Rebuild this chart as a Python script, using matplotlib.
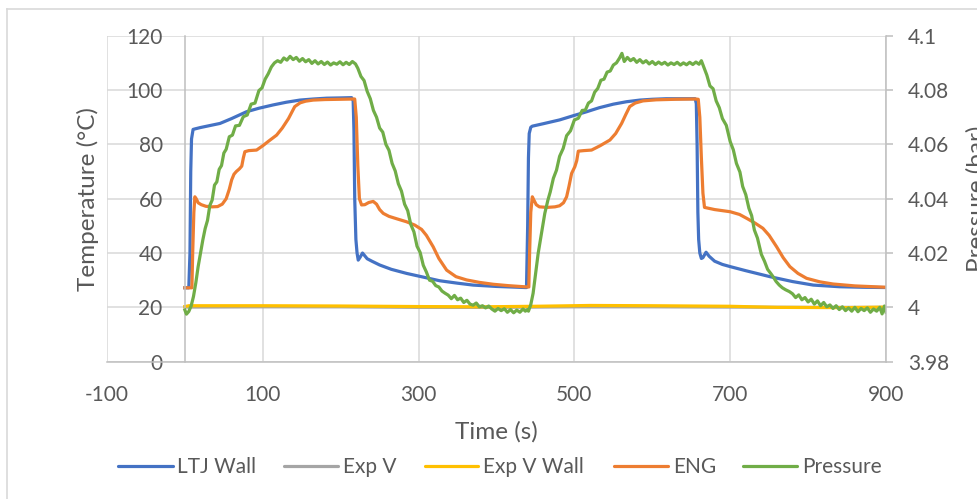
import matplotlib
matplotlib.use("Agg")
import matplotlib.pyplot as plt
from matplotlib.lines import Line2D
from matplotlib.ticker import FixedLocator, FuncFormatter

# ---------------------------------------------------------------- data
ltj_t = [0, 5, 6.5, 7.5, 8.5, 10.5, 13, 20, 30, 45, 60, 79, 95, 113, 130, 147.6,
         165, 182, 200, 214, 216, 217, 218, 219.5, 221, 222.5, 225, 228, 234,
         240, 250, 265, 284.6, 305, 327, 350, 370, 400, 437,
         438.5, 440, 441, 442, 444, 446, 460, 481, 498, 515.6, 532, 550, 567,
         584, 600, 618, 640, 655, 656.5, 657.5, 658.5, 659.5, 661, 663, 665,
         669, 673, 680, 690, 700, 720, 751, 780, 806.6, 840, 870, 900]
ltj_v = [27.2, 27.2, 40, 70, 82, 85.5, 85.7, 86.2, 86.8, 87.7, 89.5, 92, 93.3,
         94.5, 95.5, 96.3, 96.7, 97.0, 97.1, 97.2, 96, 85, 60, 45, 40, 37.4,
         38.5, 40.0, 37.9, 37.0, 35.6, 34.0, 32.5, 31.2, 29.8, 28.9, 28.2,
         27.7, 27.3,
         27.3, 50, 75, 84, 86.3, 86.7, 87.6, 89, 90.5, 92, 93.5, 94.8, 95.7,
         96.3, 96.6, 96.8, 96.8, 96.8, 95, 80, 55, 45, 40, 38, 38.3, 40.3,
         38.8, 37, 35.8, 35, 33.5, 31.3, 29.5, 28.2, 27.6, 27.4, 27.3]

expv_t = [0, 100, 200, 300, 400, 500, 600, 700, 800, 900]
expv_v = [20.1, 20.2, 20.2, 20.0, 20.0, 20.2, 20.2, 20.1, 20.0, 20.0]

expvw_t = [0, 5, 100, 200, 300, 380, 450, 520, 600, 700, 760, 850, 900]
expvw_v = [20.3, 20.6, 20.6, 20.5, 20.3, 20.2, 20.4, 20.7, 20.6, 20.4, 20.0,
           19.9, 20.1]

eng_t = [0, 9, 10, 11.5, 12.8, 14.5, 17, 21, 27, 35, 42, 48, 53, 57, 60, 63,
         66, 70, 73, 75, 77, 82, 92, 100, 108, 117.7, 125, 133, 141, 148, 155,
         164.7, 180, 200, 218, 220, 222, 224, 226.8, 231, 236, 241.7, 246, 250,
         254.6, 262, 272, 284.6, 295, 303.8, 310, 318.7, 326, 336, 348, 361.6,
         378, 395.8, 415, 440,
         441.5, 442.5, 444, 446, 448, 451, 455, 465, 475, 481, 486, 490, 493,
         496.4, 500.6, 503, 505, 512, 522, 533, 545.6, 553, 560.6, 566, 571,
         578, 588, 605, 630, 655, 659, 661, 663, 665, 667, 680, 700, 712, 721,
         732, 742, 750, 759.6, 768, 776.6, 787, 798, 815, 832, 860, 900]
eng_v = [27.2, 27.2, 40, 55, 60.7, 60, 58.5, 57.8, 57.2, 57, 57.1, 58, 60,
         63.5, 66.9, 69, 70, 71, 72, 75, 77.3, 77.7, 77.9, 79.5, 81.3, 83.4,
         86, 89.5, 93.9, 95.3, 95.9, 96.3, 96.5, 96.6, 96.7, 90, 72, 60, 57.7,
         57.8, 58.6, 59, 58, 56, 54.6, 53.5, 52.6, 51.5, 50.3, 48.7, 46.5,
         42.3, 38, 33.7, 31.3, 30.1, 29.2, 28.5, 28, 27.5,
         27.5, 40, 55, 60.7, 59.5, 57.8, 57, 56.8, 57, 57.4, 58.5, 60.7, 64.5,
         69.3, 71.8, 74, 77.5, 77.7, 77.9, 79.5, 81.6, 84, 87.7, 91, 93.9,
         95.2, 96, 96.4, 96.6, 96.7, 96.6, 90, 75, 62, 56.8, 56, 55.2, 54.2,
         52.8, 51, 49.1, 46.5, 42.3, 38.3, 35, 32.5, 30.7, 29.4, 28.6, 27.9,
         27.4]

pres_t = [0, 2, 5, 8, 11, 14, 17, 20, 23, 26, 29, 32, 35, 38, 41, 44, 47, 50,
          53, 57, 61, 65, 70, 75, 80, 85, 90, 95, 99, 103, 107, 111, 115, 119,
          123, 127, 131, 135, 139, 143, 147, 151, 155, 159, 163, 167, 171, 175,
          179, 183, 187, 191, 195, 199, 203, 207, 211, 215, 219, 222, 226, 230,
          234, 238, 242, 246, 250, 254, 258, 262, 266, 270, 274, 278, 282, 286,
          290, 294, 298, 302, 306, 310, 314, 318, 322, 326, 330, 334, 338, 342,
          346, 350, 354, 358, 362, 366, 370, 374, 378, 382, 386, 390, 394, 398,
          402, 406, 410, 414, 418, 422, 426, 430, 434, 437, 440,
          441, 444, 447, 450, 453.5, 457, 460, 462, 466, 469, 473, 477, 481,
          485.6, 490, 495, 500, 505, 510, 514, 518, 522, 526, 530, 534, 538,
          542, 546, 550, 554, 558, 561, 564, 568, 572, 576, 580, 584, 588, 592,
          596, 600, 604, 608, 612, 616, 620, 624, 628, 632, 636, 640, 644, 648,
          652, 656, 660, 663, 666, 670, 674, 678, 682, 686, 690, 695, 700, 704,
          708, 712.5, 716, 720, 724, 727.5, 731, 735, 740, 744, 748, 752, 755,
          759, 763, 767, 771, 776, 780, 784, 788, 792, 796, 800, 804, 808, 812,
          816, 820, 824, 828, 832, 836, 840, 844, 848, 852, 856, 860, 864, 868,
          872, 876, 880, 884, 888, 892, 895, 898, 900]
pres_v = [3.9990, 3.9975, 3.9985, 4.0005, 4.0040, 4.0090, 4.0150, 4.0200,
          4.0248, 4.0290, 4.0320, 4.0375, 4.0395, 4.0450, 4.0462, 4.0508,
          4.0522, 4.0568, 4.0582, 4.0628, 4.0634, 4.0668, 4.0670, 4.0702,
          4.0708, 4.0748, 4.0752, 4.0798, 4.0808, 4.0840, 4.0860, 4.0885,
          4.0900, 4.0908, 4.0902, 4.0918, 4.0910, 4.0924, 4.0912, 4.0920,
          4.0906, 4.0916, 4.0904, 4.0912, 4.0898, 4.0908, 4.0896, 4.0905,
          4.0894, 4.0903, 4.0892, 4.0900, 4.0895, 4.0904, 4.0893, 4.0902,
          4.0894, 4.0905, 4.0896, 4.0880, 4.0850, 4.0835, 4.0795, 4.0768,
          4.0725, 4.0700, 4.0660, 4.0645, 4.0600, 4.0578, 4.0530, 4.0502,
          4.0455, 4.0428, 4.0380, 4.0356, 4.0305, 4.0278, 4.0225, 4.0202,
          4.0155, 4.0130, 4.0100, 4.0096, 4.0080, 4.0075, 4.0060, 4.0052,
          4.0045, 4.0032, 4.0044, 4.0028, 4.0034, 4.0018, 4.0026, 4.0012,
          4.0008, 4.0016, 4.0002, 4.0006, 3.9998, 4.0005, 3.9994, 3.9986,
          3.9996, 3.9988, 3.9995, 3.9982, 3.9992, 3.9980, 3.9990, 3.9982,
          3.9994, 3.9986, 3.9992,
          3.9986, 4.0010, 4.0052, 4.0120, 4.0199, 4.0260, 4.0310, 4.0346,
          4.0395, 4.0425, 4.0475, 4.0505, 4.0556, 4.0585, 4.0632, 4.0650,
          4.0690, 4.0696, 4.0725, 4.0726, 4.0752, 4.0760, 4.0792, 4.0806,
          4.0836, 4.0840, 4.0866, 4.0870, 4.0892, 4.0900, 4.0918, 4.0935,
          4.0905, 4.0920, 4.0908, 4.0916, 4.0902, 4.0912, 4.0900, 4.0908,
          4.0896, 4.0905, 4.0894, 4.0903, 4.0895, 4.0902, 4.0892, 4.0900,
          4.0894, 4.0902, 4.0892, 4.0900, 4.0893, 4.0902, 4.0894, 4.0903,
          4.0895, 4.0908, 4.0885, 4.0855, 4.0815, 4.0805, 4.0760, 4.0735,
          4.0695, 4.0670, 4.0610, 4.0580, 4.0530, 4.0498, 4.0445, 4.0415,
          4.0365, 4.0338, 4.0285, 4.0255, 4.0195, 4.0170, 4.0140, 4.0125,
          4.0113, 4.0095, 4.0082, 4.0072, 4.0065, 4.0058, 4.0050, 4.0036,
          4.0046, 4.0028, 4.0036, 4.0020, 4.0030, 4.0012, 4.0024, 4.0006,
          4.0018, 4.0002, 4.0009, 3.9996, 4.0006, 3.9992, 4.0002, 3.9988,
          3.9998, 3.9986, 4.0000, 3.9984, 3.9996, 3.9988, 3.9998, 3.9982,
          3.9994, 3.9986, 4.0000, 3.9976, 4.0005, 3.9982]

x_ticks = [-100, 100, 300, 500, 700, 900]
temp_ticks = [0, 20, 40, 60, 80, 100, 120]
pres_ticks = [3.98, 4.00, 4.02, 4.04, 4.06, 4.08, 4.10]

series_names = ["LTJ Wall", "Exp V", "Exp V Wall", "ENG", "Pressure"]
series_colors = ["#4472C4", "#A5A5A5", "#FFC000", "#ED7D31", "#70AD47"]

# ---------------------------------------------------------------- style
W, H = 977, 499
plt.rcParams["font.family"] = ["Lato", "DejaVu Sans"]
plt.rcParams["axes.unicode_minus"] = False
TXT = "#595959"
GRID = "#D9D9D9"
AXIS = "#BFBFBF"
LW = 2.3

fig = plt.figure(figsize=(W / 100, H / 100), dpi=100)
fig.patch.set_facecolor("white")


def fx(px):
    return px / W


def fy(py):
    return 1 - py / H


ax = fig.add_axes([fx(107), fy(361.7), fx(886) - fx(107), fy(35.7) - fy(361.7)])
ax.set_xlim(-100, 900)
ax.set_ylim(0, 120)

ax.xaxis.set_major_locator(FixedLocator(x_ticks))
ax.yaxis.set_major_locator(FixedLocator(temp_ticks))
ax.grid(True, color=GRID, linewidth=1.1)
ax.set_axisbelow(True)
for s in ("top", "right"):
    ax.spines[s].set_visible(False)
ax.spines["left"].set_position(("data", 0))
ax.spines["left"].set_color(AXIS)
ax.spines["bottom"].set_color(AXIS)
ax.spines["left"].set_linewidth(1.1)
ax.spines["bottom"].set_linewidth(1.1)
ax.tick_params(axis="both", length=0, labelsize=15, labelcolor=TXT)
ax.tick_params(axis="y", pad=16)
ax.tick_params(axis="x", pad=16.5)

ax.plot(ltj_t, ltj_v, color=series_colors[0], lw=LW, solid_joinstyle="round")
ax.plot(expv_t, expv_v, color=series_colors[1], lw=LW)
ax.plot(expvw_t, expvw_v, color=series_colors[2], lw=LW)
ax.plot(eng_t, eng_v, color=series_colors[3], lw=LW, solid_joinstyle="round")

ax2 = ax.twinx()
ax2.set_ylim(3.98, 4.10)
ax2.yaxis.set_major_locator(FixedLocator(pres_ticks))
ax2.yaxis.set_major_formatter(FuncFormatter(lambda v, p: f"{round(v, 2):g}"))
for s in ("top", "left", "bottom"):
    ax2.spines[s].set_visible(False)
ax2.spines["right"].set_color(AXIS)
ax2.spines["right"].set_linewidth(1.1)
ax2.tick_params(axis="y", direction="out", length=4.7, width=1.1, color=AXIS,
                labelsize=15, labelcolor=TXT, pad=11)
ax2.plot(pres_t, pres_v, color=series_colors[4], lw=LW, solid_joinstyle="round")

# axis titles (the secondary title runs past the right edge of the canvas)
fig.text(fx(88), fy(199), "Temperature (°C)", rotation=90, ha="center",
         va="center", fontsize=17.5, color=TXT)
fig.text(fx(977), fy(199), "Pressure (bar)", rotation=90, ha="center",
         va="center", fontsize=17.5, color=TXT)
fig.text(fx(496), fy(431.5), "Time (s)", ha="center", va="center",
         fontsize=17.5, color=TXT)

# legend row
legend_items = [(118, 173, 177), (284, 338, 343), (425, 478, 483),
                (614, 668, 673), (743, 797, 802)]
ly = 465.7
for (x0, x1, xt), name, col in zip(legend_items, series_names, series_colors):
    fig.add_artist(Line2D([fx(x0), fx(x1)], [fy(ly), fy(ly)],
                          transform=fig.transFigure, color=col, lw=LW,
                          solid_capstyle="round"))
    fig.text(fx(xt), fy(ly + 1), name, ha="left", va="center",
             fontsize=15, color=TXT)

# chart frame
fig.add_artist(Line2D([fx(7), fx(7)], [fy(9), 0], transform=fig.transFigure,
                      color=GRID, lw=1.2))
fig.add_artist(Line2D([fx(7), 1], [fy(9), fy(9)], transform=fig.transFigure,
                      color=GRID, lw=1.2))

fig.savefig("out.png", dpi=100)
